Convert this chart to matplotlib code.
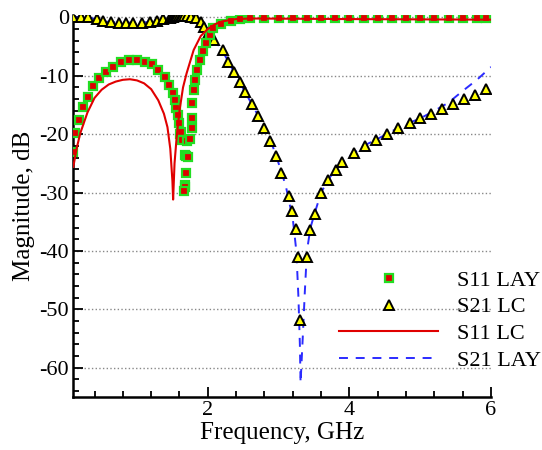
import matplotlib
matplotlib.use("Agg")
import matplotlib.pyplot as plt
from matplotlib.ticker import MultipleLocator, FixedLocator

# S11 LAY (squares)
s11_lay_f = [0.09, 0.13, 0.18, 0.24, 0.31, 0.38, 0.46, 0.56, 0.66, 0.78, 0.89, 1.0,
             1.11, 1.21, 1.30, 1.40, 1.45, 1.51, 1.54, 1.55, 1.58, 1.59, 1.61, 1.62,
             1.64, 1.68, 1.69, 1.68, 1.68, 1.66, 1.69, 1.71, 1.72, 1.75, 1.77, 1.78,
             1.78, 1.80, 1.82, 1.85, 1.89, 1.93, 1.98, 2.03, 2.08, 2.19, 2.33, 2.46,
             2.6, 2.8, 3.0, 3.2, 3.4, 3.6, 3.8, 4.0, 4.2, 4.4, 4.6, 4.8, 5.0, 5.2,
             5.4, 5.6, 5.8, 5.93]
s11_lay_db = [-23.0, -19.8, -17.6, -15.3, -13.6, -11.8, -10.4, -9.4, -8.5, -7.7, -7.3, -7.3,
              -7.7, -8.0, -9.0, -10.2, -11.6, -13.0, -14.1, -15.5, -16.7, -18.1, -20.0, -19.6,
              -21.0, -23.5, -26.6, -28.7, -29.0, -29.8, -23.7, -21.1, -23.9, -20.9, -18.9, -17.2,
              -14.7, -12.4, -10.7, -9.0, -7.3, -5.8, -4.4, -3.0, -1.8, -1.2, -0.6, -0.3,
              -0.2, -0.2, -0.2, -0.2, -0.2, -0.2, -0.2, -0.2, -0.2, -0.2, -0.2, -0.2, -0.2, -0.2,
              -0.2, -0.2, -0.2, -0.2]

# S21 LC (triangles)
s21_lc_f = [0.09, 0.21, 0.31, 0.43, 0.52, 0.63, 0.74, 0.85, 0.95, 1.07, 1.18, 1.28,
            1.37, 1.46, 1.49, 1.51, 1.53, 1.55, 1.57, 1.59, 1.62, 1.64, 1.67, 1.70,
            1.76, 1.83, 1.90, 1.95, 2.01, 2.09, 2.21, 2.29, 2.37, 2.46, 2.53, 2.62,
            2.71, 2.80, 2.88, 2.96, 3.04, 3.14, 3.19, 3.24, 3.27, 3.30, 3.40, 3.45,
            3.51, 3.60, 3.70, 3.81, 3.90, 4.07, 4.22, 4.38, 4.53, 4.69, 4.85, 5.0,
            5.15, 5.31, 5.46, 5.62, 5.78, 5.93]
s21_lc_db = [0.0, 0.0, 0.0, -0.3, -0.6, -0.8, -0.9, -0.9, -0.9, -0.9, -0.8, -0.65,
             -0.3, -0.1, 0.0, 0.1, 0.2, 0.3, 0.3, 0.3, 0.3, 0.3, 0.3, 0.2,
             0.0, -0.2, -0.8, -1.6, -2.5, -3.9, -5.6, -7.6, -9.3, -11.0, -12.8, -14.8,
             -16.9, -18.9, -21.2, -23.7, -26.7, -30.6, -33.1, -36.2, -41.1, -51.9, -41.1, -36.4,
             -33.6, -30.0, -27.8, -26.1, -24.8, -23.2, -22.1, -21.0, -19.9, -18.9, -18.1, -17.3,
             -16.5, -15.7, -14.9, -14.0, -13.3, -12.3]

# S11 LC (solid line)
s11_lc_f = [0.1, 0.15, 0.2, 0.3, 0.4, 0.5, 0.6, 0.7, 0.8, 0.9, 1.0, 1.1, 1.2, 1.3, 1.38,
            1.43, 1.47, 1.5, 1.51, 1.53, 1.56, 1.6, 1.65, 1.7, 1.8, 1.9, 2.0, 2.1, 2.2,
            2.4, 2.6, 4.0, 6.0]
s11_lc_db = [-25.6, -22.3, -19.8, -16.3, -13.8, -12.4, -11.5, -11.0, -10.7, -10.6, -10.8,
             -11.3, -12.3, -14.2, -16.5, -18.8, -22.5, -28.0, -31.2, -25.0, -20.5, -16.0,
             -12.0, -9.6, -5.6, -3.2, -2.0, -1.2, -0.7, -0.3, -0.2, -0.3, -0.4]

# S21 LAY (dashed line)
s21_lay_f = [0.1, 0.3, 0.45, 0.6, 0.8, 1.0, 1.2, 1.35, 1.5, 1.6, 1.7, 1.8, 1.9, 2.0, 2.1,
             2.2, 2.3, 2.4, 2.5, 2.6, 2.7, 2.8, 2.9, 3.0, 3.1, 3.2, 3.25, 3.28, 3.30, 3.31,
             3.34, 3.37, 3.40, 3.45, 3.51, 3.6, 3.7, 3.8, 3.9, 4.0, 4.2, 4.4, 4.6, 4.8,
             5.0, 5.2, 5.4, 5.6, 5.8, 6.0]
s21_lay_db = [0.0, 0.0, -0.4, -0.8, -0.9, -0.9, -0.8, -0.4, 0.0, 0.2, 0.2, -0.2, -1.0, -2.4,
              -4.0, -5.6, -7.8, -10.0, -12.2, -14.4, -16.6, -18.9, -21.5, -25.0, -28.8, -34.5,
              -40.0, -48.0, -56.0, -62.6, -55.0, -47.0, -40.0, -36.0, -33.5, -30.0, -27.8,
              -26.1, -24.8, -23.8, -22.0, -20.8, -19.5, -18.3, -17.3, -16.0, -14.6, -12.6,
              -10.7, -8.5]

plt.rcParams['font.family'] = ['Liberation Serif', 'DejaVu Serif']
plt.rcParams['axes.unicode_minus'] = False

fig = plt.figure(figsize=(5.42, 4.5), dpi=100)
ax = fig.add_axes([0.1352, 0.1178, 0.906 - 0.1352, 0.9667 - 0.1178])

dash, = ax.plot(s21_lay_f, s21_lay_db, color='#2b2bff', lw=1.4, dashes=(4.6, 4),
                label='S21 LAY', zorder=2)
tri, = ax.plot(s21_lc_f, s21_lc_db, ls='none', marker='^', ms=6.5, mfc='#ffff00',
               mec='black', mew=1.4, label='S21 LC', zorder=3)
sq, = ax.plot(s11_lay_f, s11_lay_db, ls='none', marker='s', ms=5.8, mfc='#dd0000',
              mec='#22dd22', mew=1.6, label='S11 LAY', zorder=4)
red, = ax.plot(s11_lc_f, s11_lc_db, color='#e00000', lw=1.5, label='S11 LC', zorder=5)

ax.set_xlim(0.1, 6)
ax.set_ylim(-65, 0.4)
ax.xaxis.set_major_locator(FixedLocator([2, 4, 6]))
ax.xaxis.set_minor_locator(MultipleLocator(0.4))
ax.yaxis.set_major_locator(MultipleLocator(10))
ax.yaxis.set_minor_locator(MultipleLocator(2))
ax.tick_params(which='both', direction='in', labelsize=16, width=1.3)
ax.tick_params(which='major', length=7, pad=3)
ax.tick_params(which='minor', length=4)

for side in ['top', 'right']:
    ax.spines[side].set_visible(False)
for side in ['left', 'bottom']:
    ax.spines[side].set_linewidth(1.8)

ax.yaxis.grid(True, linestyle=':', color='#888888', lw=1)
ax.set_axisbelow(True)

ax.set_xlabel('Frequency, GHz', fontsize=18, labelpad=1)
ax.set_ylabel('Magnitude, dB', fontsize=18, labelpad=3)

fig.legend([sq, tri, red, dash], ['S11 LAY', 'S21 LC', 'S11 LC', 'S21 LAY'],
           loc='upper left', bbox_to_anchor=(339 / 542, 1 - 270 / 450),
           frameon=False, fontsize=16, handlelength=4.46, handletextpad=0.86,
           labelspacing=0.28, borderpad=0, borderaxespad=0)

fig.savefig('out.png', dpi=100)
